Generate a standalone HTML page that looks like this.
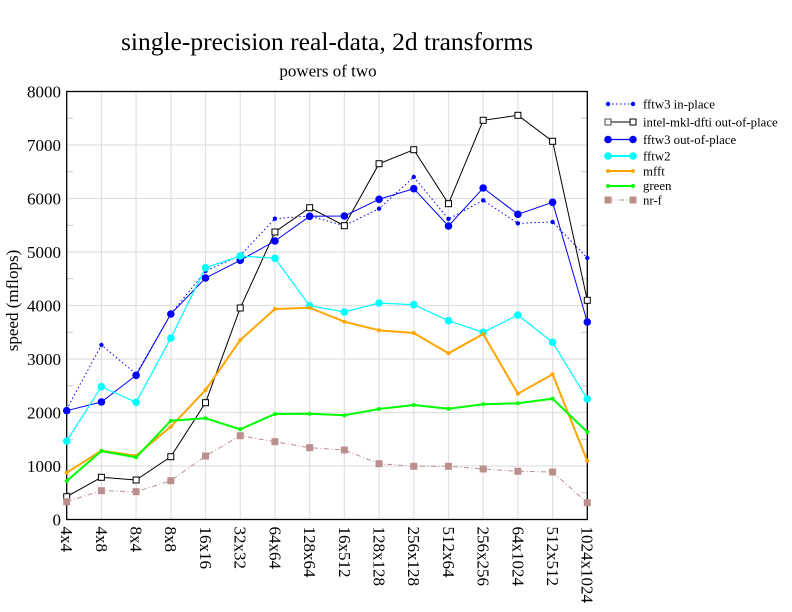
<!DOCTYPE html>
<html>
<head>
<meta charset="utf-8">
<style>
  html, body { margin: 0; padding: 0; background: #fff; }
  svg { display: block; }
  text { font-family: "Liberation Serif", "DejaVu Serif", serif; fill: #000; }
</style>
</head>
<body>
<svg width="792" height="612" viewBox="0 0 792 612" xmlns="http://www.w3.org/2000/svg">
  <rect x="0" y="0" width="792" height="612" fill="#fff"/>

  <!-- Title -->
  <text x="327" y="50" font-size="25.5" text-anchor="middle">single-precision real-data, 2d transforms</text>
  <text x="328" y="76.5" font-size="17" text-anchor="middle">powers of two</text>

  <!-- Grid -->
  <g stroke="#e0e0e0" stroke-width="1.2" fill="none">
    <line x1="66.7" y1="466" x2="587.3" y2="466"/>
    <line x1="66.7" y1="412.5" x2="587.3" y2="412.5"/>
    <line x1="66.7" y1="359" x2="587.3" y2="359"/>
    <line x1="66.7" y1="305.5" x2="587.3" y2="305.5"/>
    <line x1="66.7" y1="252" x2="587.3" y2="252"/>
    <line x1="66.7" y1="198.5" x2="587.3" y2="198.5"/>
    <line x1="66.7" y1="145" x2="587.3" y2="145"/>
    <line x1="101.41" y1="91.5" x2="101.41" y2="519.5"/>
    <line x1="136.11" y1="91.5" x2="136.11" y2="519.5"/>
    <line x1="170.82" y1="91.5" x2="170.82" y2="519.5"/>
    <line x1="205.53" y1="91.5" x2="205.53" y2="519.5"/>
    <line x1="240.24" y1="91.5" x2="240.24" y2="519.5"/>
    <line x1="274.94" y1="91.5" x2="274.94" y2="519.5"/>
    <line x1="309.65" y1="91.5" x2="309.65" y2="519.5"/>
    <line x1="344.36" y1="91.5" x2="344.36" y2="519.5"/>
    <line x1="379.06" y1="91.5" x2="379.06" y2="519.5"/>
    <line x1="413.77" y1="91.5" x2="413.77" y2="519.5"/>
    <line x1="448.48" y1="91.5" x2="448.48" y2="519.5"/>
    <line x1="483.18" y1="91.5" x2="483.18" y2="519.5"/>
    <line x1="517.89" y1="91.5" x2="517.89" y2="519.5"/>
    <line x1="552.6" y1="91.5" x2="552.6" y2="519.5"/>
  </g>

  <!-- Minor ticks -->
  <g stroke="#c8c8c8" stroke-width="1">
    <line x1="66.7" y1="492.75" x2="73" y2="492.75"/>
    <line x1="66.7" y1="439.25" x2="73" y2="439.25"/>
    <line x1="66.7" y1="385.75" x2="73" y2="385.75"/>
    <line x1="66.7" y1="332.25" x2="73" y2="332.25"/>
    <line x1="66.7" y1="278.75" x2="73" y2="278.75"/>
    <line x1="66.7" y1="225.25" x2="73" y2="225.25"/>
    <line x1="66.7" y1="171.75" x2="73" y2="171.75"/>
    <line x1="66.7" y1="118.25" x2="73" y2="118.25"/>
    <line x1="581" y1="492.75" x2="587.3" y2="492.75"/>
    <line x1="581" y1="439.25" x2="587.3" y2="439.25"/>
    <line x1="581" y1="385.75" x2="587.3" y2="385.75"/>
    <line x1="581" y1="332.25" x2="587.3" y2="332.25"/>
    <line x1="581" y1="278.75" x2="587.3" y2="278.75"/>
    <line x1="581" y1="225.25" x2="587.3" y2="225.25"/>
    <line x1="581" y1="171.75" x2="587.3" y2="171.75"/>
    <line x1="581" y1="118.25" x2="587.3" y2="118.25"/>
  </g>

  <!-- Axis box -->
  <rect x="66.7" y="91.5" width="520.6" height="428" fill="none" stroke="#000" stroke-width="1.3"/>

  <!-- Y tick labels -->
  <g font-size="17" text-anchor="end">
    <text x="61" y="525.5">0</text>
    <text x="61" y="472">1000</text>
    <text x="61" y="418.5">2000</text>
    <text x="61" y="365">3000</text>
    <text x="61" y="311.5">4000</text>
    <text x="61" y="258">5000</text>
    <text x="61" y="204.5">6000</text>
    <text x="61" y="151">7000</text>
    <text x="61" y="97.5">8000</text>
  </g>

  <!-- Y axis label -->
  <text font-size="17" text-anchor="middle" transform="translate(18,300.5) rotate(-90)">speed (mflops)</text>

  <!-- X tick labels -->
  <g font-size="17">
    <text transform="translate(61.1,526.5) rotate(90)">4x4</text>
    <text transform="translate(95.8,526.5) rotate(90)">4x8</text>
    <text transform="translate(130.5,526.5) rotate(90)">8x4</text>
    <text transform="translate(165.2,526.5) rotate(90)">8x8</text>
    <text transform="translate(199.9,526.5) rotate(90)">16x16</text>
    <text transform="translate(234.6,526.5) rotate(90)">32x32</text>
    <text transform="translate(269.3,526.5) rotate(90)">64x64</text>
    <text transform="translate(304.0,526.5) rotate(90)">128x64</text>
    <text transform="translate(338.8,526.5) rotate(90)">16x512</text>
    <text transform="translate(373.5,526.5) rotate(90)">128x128</text>
    <text transform="translate(408.2,526.5) rotate(90)">256x128</text>
    <text transform="translate(442.9,526.5) rotate(90)">512x64</text>
    <text transform="translate(477.6,526.5) rotate(90)">256x256</text>
    <text transform="translate(512.3,526.5) rotate(90)">64x1024</text>
    <text transform="translate(547.0,526.5) rotate(90)">512x512</text>
    <text transform="translate(581.7,526.5) rotate(90)">1024x1024</text>
  </g>

  <!-- fftw3 in-place -->
  <g>
    <polyline fill="none" stroke="#0000ff" stroke-width="1" stroke-dasharray="1.5,2.5"
      points="66.7,409.3 101.41,345 136.11,374 170.82,314 205.53,271 240.24,255.5 274.94,218.7 309.65,216 344.36,225.7 379.06,208.7 413.77,177 448.48,219 483.18,200.3 517.89,223.3 552.6,222 587.3,258"/>
    <g fill="#0000ff">
      <circle cx="66.7" cy="409.3" r="2.2"/><circle cx="101.41" cy="345" r="2.2"/><circle cx="136.11" cy="374" r="2.2"/><circle cx="170.82" cy="314" r="2.2"/><circle cx="205.53" cy="271" r="2.2"/><circle cx="240.24" cy="255.5" r="2.2"/><circle cx="274.94" cy="218.7" r="2.2"/><circle cx="309.65" cy="216" r="2.2"/><circle cx="344.36" cy="225.7" r="2.2"/><circle cx="379.06" cy="208.7" r="2.2"/><circle cx="413.77" cy="177" r="2.2"/><circle cx="448.48" cy="219" r="2.2"/><circle cx="483.18" cy="200.3" r="2.2"/><circle cx="517.89" cy="223.3" r="2.2"/><circle cx="552.6" cy="222" r="2.2"/><circle cx="587.3" cy="258" r="2.2"/>
    </g>
  </g>

  <!-- intel-mkl-dfti out-of-place -->
  <g>
    <polyline fill="none" stroke="#000" stroke-width="1"
      points="66.7,496.7 101.41,477.3 136.11,480 170.82,456.7 205.53,402.7 240.24,308 274.94,232 309.65,207.7 344.36,225.7 379.06,163.7 413.77,149.7 448.48,203.7 483.18,120.3 517.89,115.3 552.6,141.3 587.3,300.3"/>
    <g fill="#fff" stroke="#000" stroke-width="1">
      <rect x="63.7" y="493.7" width="6" height="6"/><rect x="98.41" y="474.3" width="6" height="6"/><rect x="133.11" y="477" width="6" height="6"/><rect x="167.82" y="453.7" width="6" height="6"/><rect x="202.53" y="399.7" width="6" height="6"/><rect x="237.24" y="305" width="6" height="6"/><rect x="271.94" y="229" width="6" height="6"/><rect x="306.65" y="204.7" width="6" height="6"/><rect x="341.36" y="222.7" width="6" height="6"/><rect x="376.06" y="160.7" width="6" height="6"/><rect x="410.77" y="146.7" width="6" height="6"/><rect x="445.48" y="200.7" width="6" height="6"/><rect x="480.18" y="117.3" width="6" height="6"/><rect x="514.89" y="112.3" width="6" height="6"/><rect x="549.6" y="138.3" width="6" height="6"/><rect x="584.3" y="297.3" width="6" height="6"/>
    </g>
  </g>

  <!-- fftw3 out-of-place -->
  <g>
    <polyline fill="none" stroke="#0000ff" stroke-width="1"
      points="66.7,410.7 101.41,402 136.11,375.3 170.82,314 205.53,278 240.24,260.3 274.94,241 309.65,216.3 344.36,216 379.06,199.3 413.77,188.7 448.48,226 483.18,188 517.89,214.3 552.6,202.3 587.3,322"/>
    <g fill="#0000ff">
      <circle cx="66.7" cy="410.7" r="3.8"/><circle cx="101.41" cy="402" r="3.8"/><circle cx="136.11" cy="375.3" r="3.8"/><circle cx="170.82" cy="314" r="3.8"/><circle cx="205.53" cy="278" r="3.8"/><circle cx="240.24" cy="260.3" r="3.8"/><circle cx="274.94" cy="241" r="3.8"/><circle cx="309.65" cy="216.3" r="3.8"/><circle cx="344.36" cy="216" r="3.8"/><circle cx="379.06" cy="199.3" r="3.8"/><circle cx="413.77" cy="188.7" r="3.8"/><circle cx="448.48" cy="226" r="3.8"/><circle cx="483.18" cy="188" r="3.8"/><circle cx="517.89" cy="214.3" r="3.8"/><circle cx="552.6" cy="202.3" r="3.8"/><circle cx="587.3" cy="322" r="3.8"/>
    </g>
  </g>

  <!-- fftw2 -->
  <g>
    <polyline fill="none" stroke="#00ffff" stroke-width="1.2"
      points="66.7,441 101.41,386.7 136.11,402.3 170.82,338 205.53,267.7 240.24,256 274.94,258.3 309.65,305.7 344.36,312 379.06,303 413.77,304.7 448.48,320.7 483.18,332.3 517.89,315 552.6,342.3 587.3,399"/>
    <g fill="#00ffff">
      <circle cx="66.7" cy="441" r="3.8"/><circle cx="101.41" cy="386.7" r="3.8"/><circle cx="136.11" cy="402.3" r="3.8"/><circle cx="170.82" cy="338" r="3.8"/><circle cx="205.53" cy="267.7" r="3.8"/><circle cx="240.24" cy="256" r="3.8"/><circle cx="274.94" cy="258.3" r="3.8"/><circle cx="309.65" cy="305.7" r="3.8"/><circle cx="344.36" cy="312" r="3.8"/><circle cx="379.06" cy="303" r="3.8"/><circle cx="413.77" cy="304.7" r="3.8"/><circle cx="448.48" cy="320.7" r="3.8"/><circle cx="483.18" cy="332.3" r="3.8"/><circle cx="517.89" cy="315" r="3.8"/><circle cx="552.6" cy="342.3" r="3.8"/><circle cx="587.3" cy="399" r="3.8"/>
    </g>
  </g>

  <!-- mfft -->
  <g>
    <polyline fill="none" stroke="#ffa500" stroke-width="2"
      points="66.7,472.7 101.41,450.7 136.11,455.7 170.82,426.7 205.53,390 240.24,340 274.94,309 309.65,307.7 344.36,321.7 379.06,330.3 413.77,333 448.48,353.3 483.18,334 517.89,393.7 552.6,374.3 587.3,461"/>
    <g fill="#ffa500">
      <circle cx="66.7" cy="472.7" r="2"/><circle cx="101.41" cy="450.7" r="2"/><circle cx="136.11" cy="455.7" r="2"/><circle cx="170.82" cy="426.7" r="2"/><circle cx="205.53" cy="390" r="2"/><circle cx="240.24" cy="340" r="2"/><circle cx="274.94" cy="309" r="2"/><circle cx="309.65" cy="307.7" r="2"/><circle cx="344.36" cy="321.7" r="2"/><circle cx="379.06" cy="330.3" r="2"/><circle cx="413.77" cy="333" r="2"/><circle cx="448.48" cy="353.3" r="2"/><circle cx="483.18" cy="334" r="2"/><circle cx="517.89" cy="393.7" r="2"/><circle cx="552.6" cy="374.3" r="2"/><circle cx="587.3" cy="461" r="2"/>
    </g>
  </g>

  <!-- green -->
  <g>
    <polyline fill="none" stroke="#00ff00" stroke-width="2"
      points="66.7,481 101.41,451 136.11,457.3 170.82,420.7 205.53,418.3 240.24,429.3 274.94,414 309.65,413.7 344.36,415.3 379.06,409 413.77,405 448.48,408.7 483.18,404.3 517.89,403.3 552.6,398.7 587.3,432"/>
    <g fill="#00ff00">
      <circle cx="66.7" cy="481" r="2"/><circle cx="101.41" cy="451" r="2"/><circle cx="136.11" cy="457.3" r="2"/><circle cx="170.82" cy="420.7" r="2"/><circle cx="205.53" cy="418.3" r="2"/><circle cx="240.24" cy="429.3" r="2"/><circle cx="274.94" cy="414" r="2"/><circle cx="309.65" cy="413.7" r="2"/><circle cx="344.36" cy="415.3" r="2"/><circle cx="379.06" cy="409" r="2"/><circle cx="413.77" cy="405" r="2"/><circle cx="448.48" cy="408.7" r="2"/><circle cx="483.18" cy="404.3" r="2"/><circle cx="517.89" cy="403.3" r="2"/><circle cx="552.6" cy="398.7" r="2"/><circle cx="587.3" cy="432" r="2"/>
    </g>
  </g>

  <!-- nr-f -->
  <g>
    <polyline fill="none" stroke="#bc8f8f" stroke-width="1" stroke-dasharray="5,2.5,1,2.5"
      points="66.7,501.7 101.41,490.7 136.11,491.7 170.82,480.7 205.53,456 240.24,435.7 274.94,441.7 309.65,447.7 344.36,450 379.06,463.7 413.77,466.3 448.48,466.3 483.18,469 517.89,471.3 552.6,472 587.3,502.7"/>
    <g fill="#bc8f8f">
      <rect x="63.2" y="498.2" width="7" height="7"/><rect x="97.91" y="487.2" width="7" height="7"/><rect x="132.61" y="488.2" width="7" height="7"/><rect x="167.32" y="477.2" width="7" height="7"/><rect x="202.03" y="452.5" width="7" height="7"/><rect x="236.74" y="432.2" width="7" height="7"/><rect x="271.44" y="438.2" width="7" height="7"/><rect x="306.15" y="444.2" width="7" height="7"/><rect x="340.86" y="446.5" width="7" height="7"/><rect x="375.56" y="460.2" width="7" height="7"/><rect x="410.27" y="462.8" width="7" height="7"/><rect x="444.98" y="462.8" width="7" height="7"/><rect x="479.68" y="465.5" width="7" height="7"/><rect x="514.39" y="467.8" width="7" height="7"/><rect x="549.1" y="468.5" width="7" height="7"/><rect x="583.8" y="499.2" width="7" height="7"/>
    </g>
  </g>

  <!-- Legend -->
  <g font-size="12.8">
    <line x1="608" y1="104" x2="633" y2="104" stroke="#0000ff" stroke-width="1" stroke-dasharray="1.5,2.5"/>
    <circle cx="608" cy="104" r="2.2" fill="#0000ff"/><circle cx="633" cy="104" r="2.2" fill="#0000ff"/>
    <text x="643" y="108.5">fftw3 in-place</text>

    <line x1="608" y1="122" x2="633" y2="122" stroke="#000" stroke-width="1"/>
    <rect x="605" y="119" width="6" height="6" fill="#fff" stroke="#444" stroke-width="1"/>
    <rect x="630" y="119" width="6" height="6" fill="#fff" stroke="#000" stroke-width="1"/>
    <text x="643" y="126.5">intel-mkl-dfti out-of-place</text>

    <line x1="608" y1="139.5" x2="633" y2="139.5" stroke="#0000ff" stroke-width="1.2"/>
    <circle cx="608" cy="139.5" r="3.8" fill="#0000ff"/><circle cx="633" cy="139.5" r="3.8" fill="#0000ff"/>
    <text x="643" y="144">fftw3 out-of-place</text>

    <line x1="608" y1="156" x2="633" y2="156" stroke="#00ffff" stroke-width="2"/>
    <circle cx="608" cy="156" r="3.8" fill="#00ffff"/><circle cx="633" cy="156" r="3.8" fill="#00ffff"/>
    <text x="643" y="160.5">fftw2</text>

    <line x1="608" y1="171" x2="633" y2="171" stroke="#ffa500" stroke-width="2"/>
    <circle cx="608" cy="171" r="2" fill="#ffa500"/><circle cx="633" cy="171" r="2" fill="#ffa500"/>
    <text x="643" y="175.5">mfft</text>

    <line x1="608" y1="186" x2="633" y2="186" stroke="#00ff00" stroke-width="2"/>
    <circle cx="608" cy="186" r="2" fill="#00ff00"/><circle cx="633" cy="186" r="2" fill="#00ff00"/>
    <text x="643" y="190">green</text>

    <line x1="608" y1="200" x2="633" y2="200" stroke="#bc8f8f" stroke-width="1" stroke-dasharray="5,2.5,1,2.5"/>
    <rect x="604.5" y="196.5" width="7" height="7" fill="#bc8f8f"/><rect x="629.5" y="196.5" width="7" height="7" fill="#bc8f8f"/>
    <text x="643" y="204.5">nr-f</text>
  </g>
</svg>
</body>
</html>
